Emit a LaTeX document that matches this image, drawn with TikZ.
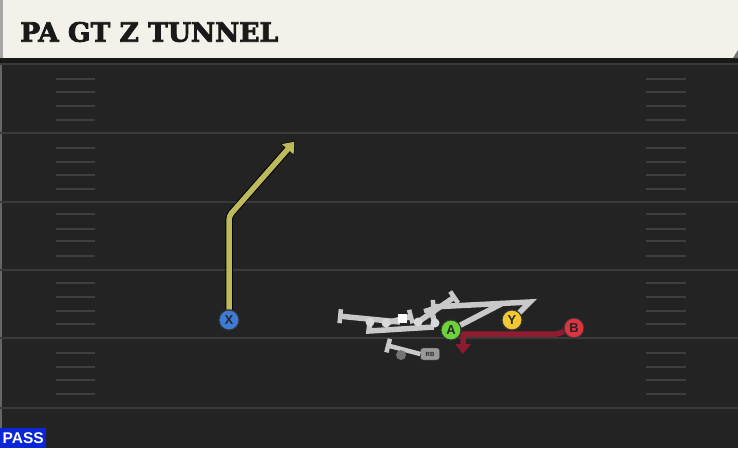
\documentclass[tikz,border=0pt]{standalone}
\usepackage{xcolor}
\usepackage{fontspec}
\setsansfont{Liberation Sans}
\newfontfamily\titlefont{DejaVu Serif}[BoldFeatures={FakeBold=3}]
\usetikzlibrary{arrows.meta, positioning, calc}

\definecolor{turf}{HTML}{232323}
\definecolor{yardline}{HTML}{3A3A3A}
\definecolor{hashline}{HTML}{3E3E3E}
\definecolor{banner}{HTML}{F4F1EA}
\definecolor{routeX}{HTML}{BDBA5C}
\definecolor{routeB}{HTML}{8E1B30}
\definecolor{blockgray}{HTML}{C9C9C9}
\definecolor{olgray}{HTML}{D9D9D9}
\definecolor{passblue}{HTML}{0A26D6}
\definecolor{plX}{HTML}{3D7BD6}
\definecolor{plA}{HTML}{6BD23A}
\definecolor{plY}{HTML}{F1C832}
\definecolor{plB}{HTML}{DE3440}

\begin{document}
\begin{tikzpicture}[x=1pt, y=-1pt,
    player/.style={circle, draw=black!80, line width=1pt, minimum size=20pt, inner sep=0pt, font=\sffamily\bfseries\fontsize{13}{13}\selectfont, text=black!85},
    lineman/.style={circle, fill=olgray, minimum size=9pt, inner sep=0pt},
    block/.style={draw=blockgray, line width=5.5pt, -{Bar[width=14pt, line width=4.5pt]}},
    blockline/.style={draw=blockgray, line width=5.5pt},
    route/.style={line width=5.5pt, rounded corners=4pt, -{Triangle[length=10pt, width=15pt]}},
    yard/.style={draw=yardline, line width=2.5pt},
    hash/.style={draw=hashline, line width=2.2pt}
]

% field and margins
\useasboundingbox (0,0) rectangle (738,448);
\fill[turf] (0,0) rectangle (738,448);
\draw[black!60, line width=2pt] (1,60) -- (1,448);

% yard lines
\foreach \yy in {64,133,202,270,338,408}
    \draw[yard] (0,\yy) -- (738,\yy);

% hash marks
\foreach \yy in {79,92,106,120,148,162,175,189,214,229,241,256,283,297,311,324,353,367,380,394} {
    \draw[hash] (56,\yy) -- (95,\yy);
    \draw[hash] (646,\yy) -- (686,\yy);
}

% title banner
\fill[black!90] (0,56) rectangle (738,63);
\fill[banner] (0,0) rectangle (738,58);
\fill[black!35] (0,0) rectangle (3,58);
\fill[black!55] (738,50) -- (738,58) -- (733,58) -- cycle;
\node[anchor=west, inner sep=0pt, font=\titlefont\bfseries\fontsize{26.5}{26.5}\selectfont, text=black!90] (title) at (20,32) {PA GT Z TUNNEL};

% play tag
\node[fill=passblue, anchor=south west, minimum width=46pt, minimum height=20pt, inner sep=0pt, font=\sffamily\bfseries\fontsize{15.5}{15.5}\selectfont, text=white] (tag) at (0,448) {PASS};

% offensive line
\coordinate (LT) at (370,322);
\coordinate (LG) at (386,323);
\coordinate (RG) at (418,322);
\coordinate (RT) at (435,323);
\coordinate (ltEnd) at (338,316);
\coordinate (pullLow) at (369,331);
\coordinate (pullEnd) at (434,327);
\coordinate (lgEnd) at (413,316);
\coordinate (rgEnd) at (456,296);
\coordinate (rtEnd) at (430,307);

\draw[block] (400,322) -- (ltEnd);
\draw[blockline] (LT) -- (pullLow) -- (pullEnd);
\draw[block] (LG) -- (lgEnd);
\draw[block] (RG) -- (rgEnd);
\draw[block] (RT) -- (rtEnd);

% skill players
\node[player, fill=plX] (X) at (229,320) {X};
\node[player, fill=plA] (A) at (451,330) {A};
\node[player, fill=plY] (Y) at (512,320) {Y};
\node[player, fill=plB] (B) at (574,328) {B};

% tight end and back blocks
\coordinate (yTop) at (530,302);
\coordinate (yEnd) at (431,307);
\coordinate (aEnd) at (503,303);
\draw[block] (Y) -- (yTop) -- (yEnd);
\draw[blockline] (A) -- (aEnd);

\foreach \p in {LT,LG,RG,RT}
    \node[lineman] at (\p) {};
\node[fill=white, minimum size=9pt, inner sep=0pt] (ball) at (402,318) {};

% running back
\node[draw=black!80, fill=black!40, rounded corners=2.5pt, minimum width=19pt, minimum height=12pt, inner sep=0pt, font=\sffamily\bfseries\fontsize{6}{6}\selectfont, text=black!85] (RB) at (430,354) {RB};
\coordinate (rbEnd) at (386,345);
\draw[block, line width=4.5pt] (RB.west) -- (rbEnd);
\fill[black!55] (401,355) circle (5pt);

% routes
\coordinate (xBreak) at (229,216);
\coordinate (xEnd) at (295,141);
\draw[route, draw=black, line width=7.5pt, -{Triangle[length=11.5pt, width=17pt]}] (X) -- (xBreak) -- (xEnd);
\draw[route, draw=routeX] (X) -- (xBreak) -- ($(xEnd)!1pt!(xBreak)$);

\coordinate (bTurn) at (557,334);
\coordinate (bCorner) at (463,334);
\coordinate (bEnd) at (463,354);
\draw[route, draw=routeB, rounded corners=1pt] (B) -- (bTurn) -- (bCorner) -- (bEnd);
\node[player, fill=plB] at (B) {B};
\node[player, fill=plA] at (A) {A};
\node[player, fill=plY] at (Y) {Y};
\node[player, fill=plX] at (X) {X};

\end{tikzpicture}
\end{document}
